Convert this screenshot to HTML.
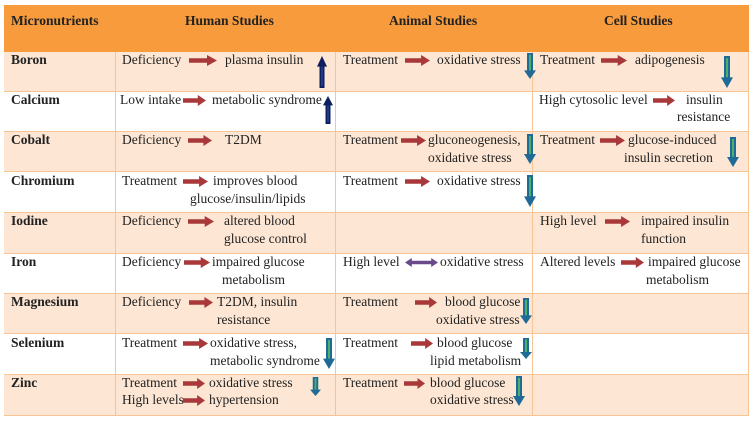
<!DOCTYPE html>
<html><head><meta charset="utf-8"><style>
body{margin:0;width:753px;height:421px;background:#fff;position:relative;overflow:hidden;font-family:"Liberation Serif",serif;font-size:13.5px;color:#222}
.c{position:absolute;box-sizing:border-box;border-right:1px solid #f8c496;border-bottom:1px solid #f8c496}
.t{position:absolute;white-space:nowrap;line-height:18px}
.h{position:absolute;font-weight:bold;top:12px;line-height:18px;white-space:nowrap}
.b{font-weight:bold}
svg.a{position:absolute;overflow:visible}
</style></head><body>
<svg width="0" height="0" style="position:absolute"><defs>
<symbol id="ra" viewBox="0 0 28 12" preserveAspectRatio="none"><path d="M0 3.5H18V0L28 6L18 12V8.5H0Z" fill="#a8383a"/></symbol>
<symbol id="ua" viewBox="0 0 10 30" preserveAspectRatio="none"><path d="M2.5 30V10H0L5 0L10 10H7.5V30Z" fill="#0d1f5c"/><path d="M4 28V10h2v18z" fill="#1e3a8a"/></symbol>
<symbol id="da" viewBox="0 0 12 30" preserveAspectRatio="none"><path d="M3 0H9V20H12L6 30L0 20H3Z" fill="#1f6a96"/><path d="M5 2H7V20H5Z" fill="#4caf6a"/></symbol>
<symbol id="dba" viewBox="0 0 34 10" preserveAspectRatio="none"><path d="M0 5L7 0V3H27V0L34 5L27 10V7H7V10Z" fill="#6b4a8c"/></symbol>
</defs></svg>
<div style="position:absolute;left:4px;top:5px;width:745px;height:411px;border:1px solid #f8c496;box-sizing:border-box"></div>
<div style="position:absolute;left:4px;top:5px;width:745px;height:47px;background:#f79b3d"></div>
<div class="h" style="left:11px">Micronutrients</div>
<div class="h" style="left:185px">Human Studies</div>
<div class="h" style="left:389px">Animal Studies</div>
<div class="h" style="left:604px">Cell Studies</div>

<div id="rows"></div>
<script>
const rowTops=[52,92,132,172,213,254,294,334,375,416];
const cols=[4,116,336,533,749];
const rows=document.getElementById('rows');
for(let r=0;r<9;r++){for(let c=0;c<4;c++){const d=document.createElement('div');d.className='c';


d.style.cssText=`left:${cols[c]}px;top:${rowTops[r]}px;width:${cols[c+1]-cols[c]}px;height:${rowTops[r+1]-rowTops[r]}px;background:${r%2==0?'#fde6d3':'#fff'}`;rows.appendChild(d);}}
</script>
<div id="content">
<div class="t b" style="left:11px;top:51px">Boron</div>
<div class="t" style="left:122px;top:51px">Deficiency</div>
<svg class="a" style="left:189px;top:55px" width="28" height="11"><use href="#ra"/></svg>
<div class="t" style="left:225px;top:51px">plasma insulin</div>
<svg class="a" style="left:317px;top:56px" width="10" height="32"><use href="#ua"/></svg>
<div class="t" style="left:343px;top:51px">Treatment</div>
<svg class="a" style="left:405px;top:55px" width="25" height="11"><use href="#ra"/></svg>
<div class="t" style="left:437px;top:51px">oxidative stress</div>
<svg class="a" style="left:524px;top:53px" width="12" height="26"><use href="#da"/></svg>
<div class="t" style="left:540px;top:51px">Treatment</div>
<svg class="a" style="left:601px;top:55px" width="26" height="11"><use href="#ra"/></svg>
<div class="t" style="left:635px;top:51px">adipogenesis</div>
<svg class="a" style="left:721px;top:56px" width="12" height="32"><use href="#da"/></svg>
<div class="t b" style="left:11px;top:91px">Calcium</div>
<div class="t" style="left:120px;top:91px">Low intake</div>
<svg class="a" style="left:183px;top:95px" width="23" height="11"><use href="#ra"/></svg>
<div class="t" style="left:212px;top:91px">metabolic syndrome</div>
<svg class="a" style="left:323px;top:96px" width="10" height="28"><use href="#ua"/></svg>
<div class="t" style="left:539px;top:91px">High cytosolic level</div>
<svg class="a" style="left:653px;top:95px" width="22" height="11"><use href="#ra"/></svg>
<div class="t" style="left:686px;top:91px">insulin</div>
<div class="t" style="left:677px;top:108px">resistance</div>
<div class="t b" style="left:11px;top:131px">Cobalt</div>
<div class="t" style="left:122px;top:131px">Deficiency</div>
<svg class="a" style="left:188px;top:135px" width="24" height="11"><use href="#ra"/></svg>
<div class="t" style="left:225px;top:131px">T2DM</div>
<div class="t" style="left:343px;top:131px">Treatment</div>
<svg class="a" style="left:401px;top:135px" width="25" height="11"><use href="#ra"/></svg>
<div class="t" style="left:428px;top:131px">gluconeogenesis,</div>
<div class="t" style="left:428px;top:149px">oxidative stress</div>
<svg class="a" style="left:524px;top:134px" width="12" height="30"><use href="#da"/></svg>
<div class="t" style="left:540px;top:131px">Treatment</div>
<svg class="a" style="left:600px;top:135px" width="25" height="11"><use href="#ra"/></svg>
<div class="t" style="left:628px;top:131px">glucose-induced</div>
<div class="t" style="left:624px;top:149px">insulin secretion</div>
<svg class="a" style="left:727px;top:137px" width="12" height="30"><use href="#da"/></svg>
<div class="t b" style="left:11px;top:172px">Chromium</div>
<div class="t" style="left:122px;top:172px">Treatment</div>
<svg class="a" style="left:183px;top:176px" width="25" height="11"><use href="#ra"/></svg>
<div class="t" style="left:213px;top:172px">improves blood</div>
<div class="t" style="left:190px;top:190px">glucose/insulin/lipids</div>
<div class="t" style="left:343px;top:172px">Treatment</div>
<svg class="a" style="left:405px;top:176px" width="25" height="11"><use href="#ra"/></svg>
<div class="t" style="left:437px;top:172px">oxidative stress</div>
<svg class="a" style="left:524px;top:175px" width="12" height="32"><use href="#da"/></svg>
<div class="t b" style="left:11px;top:212px">Iodine</div>
<div class="t" style="left:122px;top:212px">Deficiency</div>
<svg class="a" style="left:188px;top:216px" width="26" height="11"><use href="#ra"/></svg>
<div class="t" style="left:224px;top:212px">altered blood</div>
<div class="t" style="left:224px;top:230px">glucose control</div>
<div class="t" style="left:540px;top:212px">High level</div>
<svg class="a" style="left:605px;top:216px" width="25" height="11"><use href="#ra"/></svg>
<div class="t" style="left:641px;top:212px">impaired insulin</div>
<div class="t" style="left:641px;top:230px">function</div>
<div class="t b" style="left:11px;top:253px">Iron</div>
<div class="t" style="left:122px;top:253px">Deficiency</div>
<svg class="a" style="left:184px;top:257px" width="26" height="11"><use href="#ra"/></svg>
<div class="t" style="left:212px;top:253px">impaired glucose</div>
<div class="t" style="left:222px;top:271px">metabolism</div>
<div class="t" style="left:343px;top:253px">High level</div>
<svg class="a" style="left:405px;top:258px" width="33" height="9"><use href="#dba"/></svg>
<div class="t" style="left:440px;top:253px">oxidative stress</div>
<div class="t" style="left:540px;top:253px">Altered levels</div>
<svg class="a" style="left:621px;top:257px" width="23" height="11"><use href="#ra"/></svg>
<div class="t" style="left:648px;top:253px">impaired glucose</div>
<div class="t" style="left:646px;top:271px">metabolism</div>
<div class="t b" style="left:11px;top:293px">Magnesium</div>
<div class="t" style="left:122px;top:293px">Deficiency</div>
<svg class="a" style="left:189px;top:297px" width="24" height="11"><use href="#ra"/></svg>
<div class="t" style="left:217px;top:293px">T2DM, insulin</div>
<div class="t" style="left:217px;top:311px">resistance</div>
<div class="t" style="left:343px;top:293px">Treatment</div>
<svg class="a" style="left:415px;top:297px" width="22" height="11"><use href="#ra"/></svg>
<div class="t" style="left:445px;top:293px">blood glucose</div>
<div class="t" style="left:436px;top:311px">oxidative stress</div>
<svg class="a" style="left:520px;top:298px" width="12" height="26"><use href="#da"/></svg>
<div class="t b" style="left:11px;top:334px">Selenium</div>
<div class="t" style="left:122px;top:334px">Treatment</div>
<svg class="a" style="left:183px;top:338px" width="25" height="11"><use href="#ra"/></svg>
<div class="t" style="left:210px;top:334px">oxidative stress,</div>
<div class="t" style="left:210px;top:352px">metabolic syndrome</div>
<svg class="a" style="left:323px;top:338px" width="12" height="31"><use href="#da"/></svg>
<div class="t" style="left:343px;top:334px">Treatment</div>
<svg class="a" style="left:411px;top:338px" width="22" height="11"><use href="#ra"/></svg>
<div class="t" style="left:437px;top:334px">blood glucose</div>
<div class="t" style="left:430px;top:352px">lipid metabolism</div>
<svg class="a" style="left:520px;top:338px" width="12" height="21"><use href="#da"/></svg>
<div class="t b" style="left:11px;top:374px">Zinc</div>
<div class="t" style="left:122px;top:374px">Treatment</div>
<svg class="a" style="left:183px;top:378px" width="22" height="11"><use href="#ra"/></svg>
<div class="t" style="left:209px;top:374px">oxidative stress</div>
<svg class="a" style="left:310px;top:377px" width="11" height="19"><use href="#da"/></svg>
<div class="t" style="left:122px;top:391px">High levels</div>
<svg class="a" style="left:183px;top:395px" width="22" height="11"><use href="#ra"/></svg>
<div class="t" style="left:209px;top:391px">hypertension</div>
<div class="t" style="left:343px;top:374px">Treatment</div>
<svg class="a" style="left:404px;top:378px" width="21" height="11"><use href="#ra"/></svg>
<div class="t" style="left:430px;top:374px">blood glucose</div>
<div class="t" style="left:430px;top:391px">oxidative stress</div>
<svg class="a" style="left:513px;top:376px" width="12" height="30"><use href="#da"/></svg>
</div>
</body></html>
